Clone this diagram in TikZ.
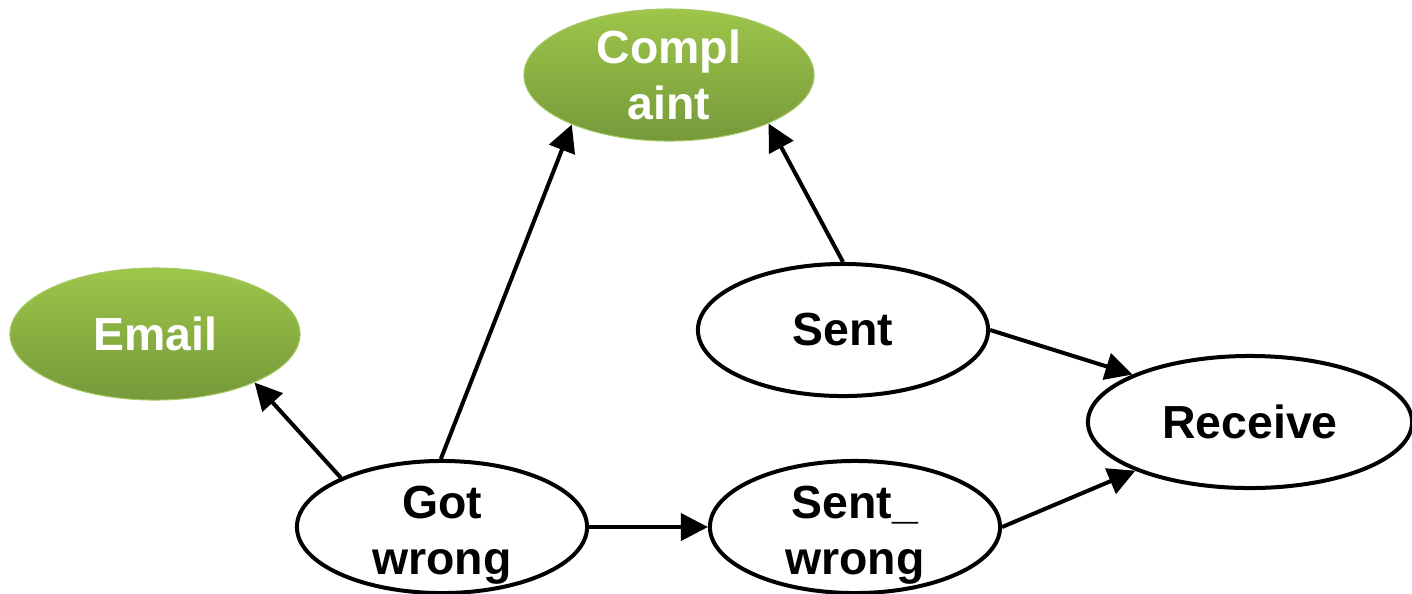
\documentclass[tikz,border=0pt]{standalone}
\usepackage{fontspec}
\setmainfont{Liberation Sans}
\usetikzlibrary{shapes.geometric,arrows.meta}
\definecolor{greentop}{RGB}{157,198,74}
\definecolor{greenbot}{RGB}{118,153,58}
\definecolor{greenrim}{RGB}{166,201,100}
\tikzset{
  state/.style={shape=ellipse,draw=black,line width=0.04cm,fill=white,
    minimum width=2.9cm,minimum height=1.32cm,inner sep=0pt,align=center,
    font=\fontsize{13.2}{16}\selectfont\bfseries},
  goal/.style={state,draw=greenrim,line width=0.01cm,top color=greentop,
    bottom color=greenbot,text=white},
  arr/.style={line width=0.04cm,-{Triangle[length=0.27cm,width=0.27cm]}}
}
% two lines, set a little below the middle of the ellipse
\newcommand{\lowpair}[2]{\smash{\raisebox{-0.19cm}{\begin{tabular}{@{}c@{}}#1\\#2\end{tabular}}}}
\begin{document}
\begin{tikzpicture}[x=0.01cm,y=-0.01cm]
\useasboundingbox (0,0) rectangle (1412,593);
\node[goal] (complaint) at (669,75) {Compl\\aint};
\node[goal] (email) at (155,334) {Email};
\node[state] (sent) at (843,330) {Sent};
\node[state,minimum width=3.24cm] (receive) at (1250,422) {Receive};
\node[state] (gotwrong) at (442,527) {\lowpair{Got}{wrong}};
\node[state] (sentwrong) at (855,527) {\lowpair{Sent\_}{wrong}};
\path [arr] (gotwrong.154) edge (email.-26);
\path [arr] (gotwrong.91) edge (complaint.-153);
\path [arr] (sent.north) edge (complaint.-26);
\path [arr] (sent.east) edge (receive.158);
\path [arr] (gotwrong.east) edge (sentwrong.west);
\path [arr] (sentwrong.east) edge (receive.-157);
\end{tikzpicture}
\end{document}
